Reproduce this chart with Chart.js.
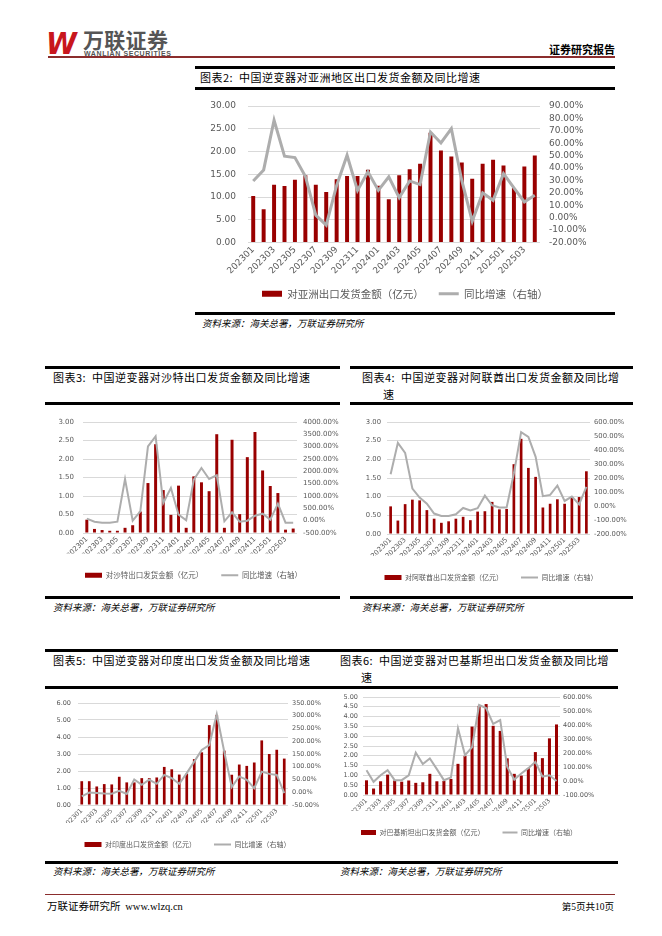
<!DOCTYPE html>
<html lang="zh">
<head>
<meta charset="utf-8">
<script src="https://cdn.jsdelivr.net/npm/chart.js@4.4.1/dist/chart.umd.min.js"></script>
<style>
  body { margin: 0; width: 662px; height: 936px; position: relative; background: #fff; font-family: "Noto Sans CJK SC", sans-serif; color: #000; overflow: hidden; }
  .rule { position: absolute; height: 2.5px; background: #000; }
  .title { position: absolute; font-size: 11px; letter-spacing: 0.5px; line-height: 17px; white-space: nowrap; }
  .src { position: absolute; font-size: 9.5px; font-style: italic; white-space: nowrap; }
  .chart { position: absolute; }
</style>
</head>
<body>

<!-- header -->
<div style="position:absolute;left:46px;top:25px;font:italic bold 31px 'DejaVu Sans';color:#c8161d;letter-spacing:-4px;transform:scaleX(0.9);transform-origin:left">W</div>
<div style="position:absolute;left:83px;top:24px;font-size:21px;font-weight:bold;color:#555;letter-spacing:0.3px">万联证券</div>
<div style="position:absolute;left:84px;top:50px;font:bold 7px 'Liberation Sans';color:#555;letter-spacing:0.6px">WANLIAN SECURITIES</div>
<div style="position:absolute;left:48px;top:56px;width:567px;height:1.5px;background:#8b2d2d"></div>
<div style="position:absolute;right:47px;top:41px;font-size:11px;font-weight:bold">证券研究报告</div>

<!-- chart 2 -->
<div class="rule" style="left:195px;top:66px;width:420px"></div>
<div class="title" style="left:200px;top:69px">图表2:&nbsp;&nbsp;中国逆变器对亚洲地区出口发货金额及同比增速</div>
<div class="rule" style="left:195px;top:87px;width:420px"></div>
<div class="chart" style="left:198px;top:95px;width:414px;height:214px"><canvas id="asiaChart"></canvas></div>
<div class="rule" style="left:195px;top:312px;width:420px"></div>
<div class="src" style="left:202px;top:316px">资料来源：海关总署，万联证券研究所</div>

<!-- chart 3 -->
<div class="rule" style="left:45px;top:366px;width:295px"></div>
<div class="title" style="left:53px;top:369px">图表3:&nbsp;&nbsp;中国逆变器对沙特出口发货金额及同比增速</div>
<div class="rule" style="left:45px;top:402px;width:295px"></div>
<div class="chart" style="left:47px;top:410px;width:293px;height:179px"><canvas id="saudiChart"></canvas></div>
<div class="rule" style="left:45px;top:596px;width:295px"></div>
<div class="src" style="left:53px;top:600px">资料来源：海关总署，万联证券研究所</div>

<!-- chart 4 -->
<div class="rule" style="left:350px;top:366px;width:283px"></div>
<div class="title" style="left:362px;top:369px">图表4:&nbsp;&nbsp;中国逆变器对阿联酋出口发货金额及同比增<br><span style="padding-left:21px">速</span></div>
<div class="rule" style="left:350px;top:402px;width:283px"></div>
<div class="chart" style="left:352px;top:410px;width:278px;height:181px"><canvas id="uaeChart"></canvas></div>
<div class="rule" style="left:350px;top:596px;width:283px"></div>
<div class="src" style="left:362px;top:600px">资料来源：海关总署，万联证券研究所</div>

<!-- chart 5 -->
<div class="rule" style="left:45px;top:649px;width:295px"></div>
<div class="title" style="left:53px;top:652px">图表5:&nbsp;&nbsp;中国逆变器对印度出口发货金额及同比增速</div>
<div class="rule" style="left:45px;top:686px;width:295px"></div>
<div class="chart" style="left:45px;top:692px;width:285px;height:166px"><canvas id="indiaChart"></canvas></div>
<div class="rule" style="left:45px;top:861px;width:295px"></div>
<div class="src" style="left:53px;top:864px">资料来源：海关总署，万联证券研究所</div>

<!-- chart 6 -->
<div class="rule" style="left:338px;top:649px;width:280px"></div>
<div class="title" style="left:340px;top:652px">图表6:&nbsp;&nbsp;中国逆变器对巴基斯坦出口发货金额及同比增<br><span style="padding-left:21px">速</span></div>
<div class="rule" style="left:338px;top:686px;width:280px"></div>
<div class="chart" style="left:338px;top:688px;width:262px;height:158px"><canvas id="pakChart"></canvas></div>
<div class="rule" style="left:338px;top:861px;width:280px"></div>
<div class="src" style="left:340px;top:864px">资料来源：海关总署，万联证券研究所</div>

<!-- footer -->
<div style="position:absolute;left:45px;top:894px;width:570px;height:1px;background:#8b2d2d"></div>
<div style="position:absolute;left:47px;top:898px;font-size:10.5px;white-space:nowrap">万联证券研究所&nbsp;&nbsp;<span style="font-family:'Liberation Serif'">www.wlzq.cn</span></div>
<div style="position:absolute;right:48px;top:899px;font-size:9.5px;white-space:nowrap">第<span style="font-family:'Liberation Serif'">5</span>页共<span style="font-family:'Liberation Serif'">10</span>页</div>

<script>
// months shown on every chart
const months = ['202301', '202302', '202303', '202304', '202305', '202306', '202307', '202308', '202309', '202310', '202311', '202312',
  '202401', '202402', '202403', '202404', '202405', '202406', '202407', '202408', '202409', '202410', '202411', '202412',
  '202501', '202502', '202503', '202504'];

// Asia (亿元 / %)
const asiaValues = [10.2, 7.3, 12.7, 12.4, 13.8, 14.8, 12.7, 11.1, 13.9, 14.6, 14.6, 16.0, 12.5, 9.5, 14.8, 16.1, 17.3, 24.1, 20.2, 18.9, 17.6, 14.0, 17.3, 18.2, 16.9, 12.0, 16.7, 19.1];
const asiaYoy = [29.6, 38.5, 78.5, 49.5, 48.4, 33.4, 2, -6, 26, 50.3, 22, 37, 22, 32.9, 16.2, 29.6, 26.7, 69, 60.2, 71.8, 30, -2.8, 20, 14, 35.5, 24, 12.7, 18.1];

// Saudi Arabia
const saudiValues = [0.36, 0.11, 0.08, 0.06, 0.06, 0.14, 0.21, 0.58, 1.35, 2.4, 1.16, 0.49, 1.28, 0.14, 1.53, 1.37, 1.13, 2.67, 0.14, 2.52, 0.51, 2.05, 2.73, 1.69, 1.27, 1.08, 0.09, 0.12];
const saudiYoy = [81, -41, -81, -81, -41, 1689, 0, 378, 3014, 3419, 716, 1324, 243, 14, 1662, 2135, 1689, 1838, -27, 338, -41, 0, 203, 284, 41, 689, -81, -81];

// UAE
const uaeValues = [0.74, 0.36, 0.80, 0.92, 0.90, 0.64, 0.41, 0.30, 0.34, 0.41, 0.46, 0.37, 0.60, 0.61, 0.86, 0.66, 0.67, 1.87, 2.55, 1.77, 1.53, 0.71, 0.81, 0.93, 0.81, 0.99, 0.99, 1.68];
const uaeYoy = [227, 451, 380, 125, 60, 17, -54, -71, -71, -59, -14, -31, -16, 74, 5, -11, -11, 232, 528, 494, 351, 70, 79, 146, 36, 67, 12, 137];

// India
const indiaValues = [1.40, 1.40, 1.09, 1.23, 1.21, 1.66, 1.33, 1.33, 1.58, 1.58, 1.62, 2.24, 2.10, 1.79, 1.85, 2.70, 3.10, 4.70, 5.30, 3.20, 1.78, 2.38, 2.30, 2.50, 3.80, 3.00, 3.25, 2.73];
const indiaYoy = [-16, -1, -3, -5, -6, 6, -7, 50, 29, 49, 33, 68, 55, 33, 75, 120, 166, 185, 306, 159, 20, 62, 49, 16, 81, 72, 68, -3];

// Pakistan
const pakValues = [0.75, 0.33, 0.70, 1.04, 0.74, 0.68, 0.74, 0.62, 0.65, 1.08, 0.70, 0.72, 0.82, 1.59, 2.00, 3.49, 4.55, 4.64, 3.53, 3.27, 1.87, 1.08, 0.99, 1.37, 2.19, 1.88, 2.89, 3.60];
const pakYoy = [77, -6, 41, 77, 6, 6, 41, 202, 121, 161, 85, 6, 25, 377, 185, 241, 543, 521, 408, 435, 101, 10, 53, 92, 137, 32, 41, 0];

const BAR_RED = '#990000';
const LINE_GREY = '#adadad';
const TICK_GREY = '#595959';
const GRID_GREY = '#d9d9d9';
const YOY_LABEL = '同比增速（右轴）';

Chart.defaults.font.family = 'DejaVu Sans';
Chart.defaults.animation = false;

function comboChart(canvasId, o) {
  const canvas = document.getElementById(canvasId);
  if (!canvas) return null;

  return new Chart(canvas, {
    type: 'bar',
    data: {
      labels: months,
      datasets: [
        {
          type: 'bar',
          label: o.barLabel,
          data: o.bars,
          backgroundColor: BAR_RED,
          yAxisID: 'y',
          order: 2,
          categoryPercentage: 1,
          barPercentage: o.barPct
        },
        {
          type: 'line',
          label: YOY_LABEL,
          data: o.yoy,
          borderColor: LINE_GREY,
          backgroundColor: LINE_GREY,
          borderWidth: o.lineW,
          pointRadius: 0,
          tension: 0,
          yAxisID: 'y1',
          order: 1
        }
      ]
    },
    options: {
      responsive: true,
      maintainAspectRatio: false,
      layout: { padding: { top: o.padTop, left: 0, right: 0, bottom: 0 } },
      plugins: {
        tooltip: { enabled: false },
        legend: {
          position: 'bottom',
          labels: {
            usePointStyle: true,
            pointStyleWidth: o.boxW,
            boxHeight: o.boxH,
            padding: o.legendPad,
            color: TICK_GREY,
            font: { family: 'Noto Sans CJK SC', size: o.legendFont },
            generateLabels(chart) {
              const items = Chart.defaults.plugins.legend.labels.generateLabels(chart);
              items.sort((a, b) => a.datasetIndex - b.datasetIndex);
              items.forEach(it => { it.pointStyle = it.datasetIndex === 0 ? 'rect' : 'line'; });
              return items;
            }
          }
        }
      },
      scales: {
        x: {
          grid: { display: false, drawTicks: false },
          border: { display: false },
          afterFit: s => { s.height = o.xH; },
          ticks: {
            autoSkip: false,
            maxRotation: 45,
            minRotation: 45,
            padding: 2,
            color: TICK_GREY,
            font: { size: o.xFont },
            callback: (v, i) => (i % 2 === 0 ? months[i] : '')
          }
        },
        y: {
          position: 'left',
          min: o.yMin, max: o.yMax,
          // invisible tick marks give the gap between labels and plot
          grid: { color: GRID_GREY, drawTicks: true, tickLength: o.leftPad - 2, tickColor: 'rgba(0,0,0,0)' },
          border: { display: false },
          afterFit: s => { s.width = o.leftW; },
          ticks: {
            autoSkip: false,
            stepSize: o.yStep,
            padding: 2,
            color: TICK_GREY,
            font: { size: o.tickFont },
            callback: v => v.toFixed(2)
          }
        },
        y1: {
          position: 'right',
          min: o.y1Min, max: o.y1Max,
          grid: { drawOnChartArea: false, drawTicks: true, tickLength: o.rightPad - 2, tickColor: 'rgba(0,0,0,0)' },
          border: { display: false },
          afterFit: s => { s.width = o.rightW; },
          ticks: {
            autoSkip: false,
            stepSize: o.y1Step,
            padding: 2,
            color: TICK_GREY,
            font: { size: o.tickFont },
            callback: v => v.toFixed(2) + '%'
          }
        }
      }
    }
  });
}

comboChart('asiaChart', {
  barLabel: '对亚洲出口发货金额（亿元）', bars: asiaValues, yoy: asiaYoy,
  yMin: 0, yMax: 30, yStep: 5, y1Min: -20, y1Max: 90, y1Step: 10,
  barPct: 0.38, lineW: 3, padTop: 11, xH: 31, leftW: 50, rightW: 72, leftPad: 12, rightPad: 9,
  tickFont: 9, xFont: 9, legendFont: 10.5, legendPad: 15, boxW: 20, boxH: 6
});

comboChart('saudiChart', {
  barLabel: '对沙特出口发货金额（亿元）', bars: saudiValues, yoy: saudiYoy,
  yMin: 0, yMax: 3, yStep: 0.5, y1Min: -500, y1Max: 4000, y1Step: 500,
  barPct: 0.39, lineW: 2, padTop: 12, xH: 20.5, leftW: 36, rightW: 43, leftPad: 9, rightPad: 6,
  tickFont: 7, xFont: 7, legendFont: 7.5, legendPad: 18, boxW: 17, boxH: 5
});

comboChart('uaeChart', {
  barLabel: '对阿联酋出口发货金额（亿元）', bars: uaeValues, yoy: uaeYoy,
  yMin: 0, yMax: 3, yStep: 0.5, y1Min: -200, y1Max: 600, y1Step: 100,
  barPct: 0.37, lineW: 2, padTop: 12, xH: 22, leftW: 35, rightW: 40, leftPad: 6, rightPad: 4,
  tickFont: 6.8, xFont: 6.8, legendFont: 7, legendPad: 18, boxW: 17, boxH: 5
});

comboChart('indiaChart', {
  barLabel: '对印度出口发货金额（亿元）', bars: indiaValues, yoy: indiaYoy,
  yMin: 0, yMax: 6, yStep: 1, y1Min: -50, y1Max: 350, y1Step: 50,
  barPct: 0.36, lineW: 2, padTop: 11, xH: 18, leftW: 33, rightW: 42, leftPad: 7, rightPad: 4,
  tickFont: 6.5, xFont: 6.5, legendFont: 7, legendPad: 18, boxW: 17, boxH: 5
});

comboChart('pakChart', {
  barLabel: '对巴基斯坦出口发货金额（亿元）', bars: pakValues, yoy: pakYoy,
  yMin: 0, yMax: 5, yStep: 0.5, y1Min: -100, y1Max: 600, y1Step: 100,
  barPct: 0.43, lineW: 2, padTop: 9, xH: 16, leftW: 25, rightW: 40, leftPad: 5, rightPad: 3,
  tickFont: 6.5, xFont: 6.5, legendFont: 7, legendPad: 18, boxW: 15, boxH: 5
});
</script>
</body>
</html>
